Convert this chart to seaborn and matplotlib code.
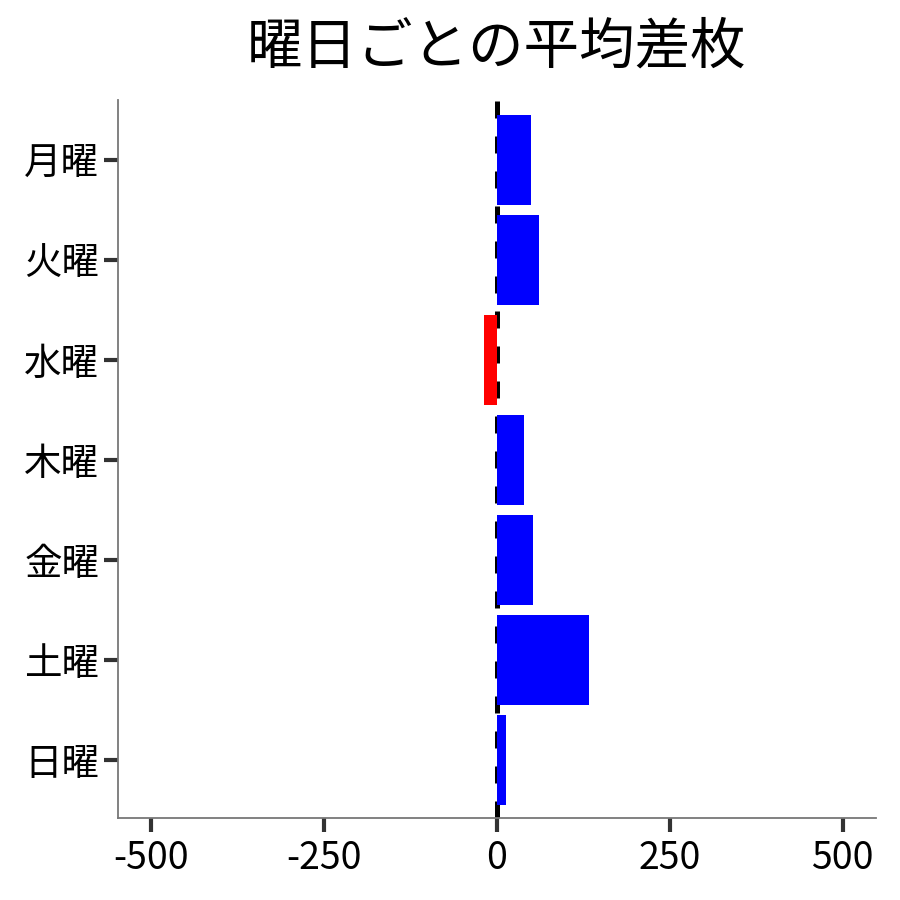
import matplotlib
matplotlib.use("Agg")
import matplotlib.pyplot as plt
import seaborn as sns
import pandas as pd

days = ["月曜", "火曜", "水曜", "木曜", "金曜", "土曜", "日曜"]
avg_diff = [49, 61, -19, 39, 53, 133, 14]
xticks = [-500, -250, 0, 250, 500]

sns.set_theme(style="ticks")
plt.rcParams['font.family'] = ['Noto Sans CJK JP', 'DejaVu Sans']

df = pd.DataFrame({"day": days, "diff": avg_diff})
colors = ["blue" if v >= 0 else "red" for v in avg_diff]

fig = plt.figure(figsize=(9, 9), dpi=100)
ax = fig.add_axes([0.131, 0.091, 0.842, 0.798])

ax.axvline(0, color="black", linestyle=(0, (3.4, 3.6)), linewidth=3.6, zorder=1)
sns.barplot(data=df, x="diff", y="day", hue="day", palette=colors, legend=False,
            width=0.9, saturation=1, linewidth=0, ax=ax, zorder=2)

ax.set_xlim(-548, 548)
ax.set_ylim(6.58, -0.6)
ax.set_xticks(xticks)
ax.set_xticklabels([str(t) for t in xticks])
ax.set_xlabel("")
ax.set_ylabel("")
ax.tick_params(axis="both", labelsize=27, length=10, width=3, color="#333333", labelcolor="black")
ax.tick_params(axis="y", pad=3.5)
ax.tick_params(axis="x", pad=5)
for s in ["top", "right"]:
    ax.spines[s].set_visible(False)
for s in ["left", "bottom"]:
    ax.spines[s].set_color("#777777")
    ax.spines[s].set_linewidth(1.3)
ax.set_title("曜日ごとの平均差枚", fontsize=40, pad=26, color="black")

fig.savefig("out.png", dpi=100)
